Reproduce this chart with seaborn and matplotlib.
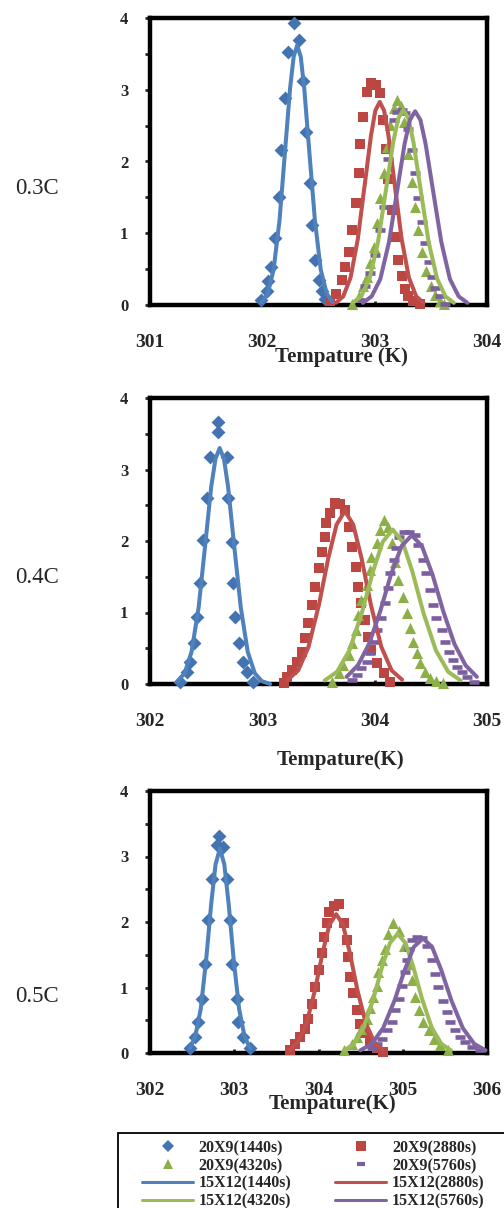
import numpy as np
import pandas as pd
import matplotlib
matplotlib.use("Agg")
import matplotlib.pyplot as plt
from matplotlib.lines import Line2D
from matplotlib.patches import Rectangle
from matplotlib.ticker import MultipleLocator
import seaborn as sns

# ---------------- 0.3C ----------------
x03_d1440 = [301.99, 302.04, 302.05, 302.08, 302.11, 302.15, 302.17, 302.20, 302.23, 302.285,
             302.33, 302.365, 302.39, 302.42, 302.44, 302.47, 302.50, 302.53, 302.56]
y03_d1440 = [0.07, 0.19, 0.33, 0.53, 0.93, 1.50, 2.16, 2.89, 3.53, 3.93,
             3.69, 3.12, 2.41, 1.70, 1.11, 0.63, 0.35, 0.19, 0.09]
x03_d2880 = [302.60, 302.66, 302.71, 302.74, 302.77, 302.80, 302.83, 302.86, 302.87, 302.90, 302.93,
             302.97, 303.01, 303.05, 303.07, 303.10, 303.12, 303.15, 303.18, 303.21, 303.24, 303.27,
             303.30, 303.34, 303.40]
y03_d2880 = [0.05, 0.16, 0.35, 0.53, 0.74, 1.05, 1.42, 1.84, 2.25, 2.62, 2.97,
             3.09, 3.07, 2.95, 2.58, 2.18, 1.75, 1.32, 0.95, 0.63, 0.40, 0.22,
             0.12, 0.05, 0.01]
x03_d4320 = [302.80, 302.86, 302.90, 302.93, 302.96, 302.99, 303.02, 303.05, 303.08, 303.11, 303.14,
             303.17, 303.20, 303.23, 303.26, 303.30, 303.33, 303.36, 303.39, 303.42, 303.46, 303.50,
             303.54, 303.58, 303.62]
y03_d4320 = [0.01, 0.12, 0.26, 0.39, 0.58, 0.81, 1.14, 1.49, 1.84, 2.20, 2.51,
             2.75, 2.86, 2.78, 2.55, 2.10, 1.72, 1.37, 1.05, 0.74, 0.48, 0.27,
             0.14, 0.06, 0.01]
x03_d5760 = [302.87, 302.91, 302.96, 303.00, 303.05, 303.08, 303.12, 303.17, 303.20, 303.24, 303.27,
             303.30, 303.33, 303.36, 303.39, 303.42, 303.45, 303.48, 303.51, 303.54, 303.58, 303.63]
y03_d5760 = [0.07, 0.26, 0.44, 0.70, 1.05, 1.37, 2.04, 2.58, 2.69, 2.72, 2.68,
             2.45, 2.16, 1.84, 1.49, 1.16, 0.86, 0.60, 0.39, 0.23, 0.12, 0.02]

x03_l1440 = [301.995, 302.048, 302.100, 302.153, 302.205, 302.247, 302.279, 302.310,
             302.342, 302.373, 302.415, 302.468, 302.520, 302.573, 302.625]
y03_l1440 = [0.04, 0.16, 0.49, 1.18, 2.20, 3.02, 3.46, 3.62, 3.46, 3.02, 2.20, 1.18, 0.49, 0.16, 0.04]
x03_l2880 = [302.655, 302.720, 302.785, 302.850, 302.915, 302.967, 303.006, 303.045,
             303.084, 303.123, 303.175, 303.240, 303.305, 303.370, 303.435]
y03_l2880 = [0.03, 0.12, 0.38, 0.92, 1.72, 2.36, 2.71, 2.83, 2.71, 2.36, 1.72, 0.92, 0.38, 0.12, 0.03]
x03_l4320 = [302.805, 302.880, 302.955, 303.030, 303.105, 303.165, 303.210, 303.255,
             303.300, 303.345, 303.405, 303.480, 303.555, 303.630, 303.705]
y03_l4320 = [0.03, 0.12, 0.37, 0.88, 1.65, 2.27, 2.60, 2.72, 2.60, 2.27, 1.65, 0.88, 0.37, 0.12, 0.03]
x03_l5760 = [302.895, 302.973, 303.050, 303.128, 303.205, 303.267, 303.314, 303.360,
             303.407, 303.453, 303.515, 303.593, 303.670, 303.748, 303.825]
y03_l5760 = [0.03, 0.12, 0.36, 0.88, 1.64, 2.25, 2.58, 2.70, 2.58, 2.25, 1.64, 0.88, 0.36, 0.12, 0.03]

# ---------------- 0.4C ----------------
x04_d1440 = [302.27, 302.33, 302.36, 302.39, 302.415, 302.445, 302.475, 302.505, 302.534, 302.608,
             302.608, 302.683, 302.697, 302.727, 302.742, 302.757, 302.795, 302.83, 302.86, 302.92]
y04_d1440 = [0.03, 0.17, 0.31, 0.57, 0.94, 1.41, 2.01, 2.60, 3.18, 3.53,
             3.67, 3.18, 2.60, 1.99, 1.41, 0.94, 0.57, 0.31, 0.17, 0.03]
x04_d2880 = [303.19, 303.22, 303.26, 303.31, 303.35, 303.38, 303.41, 303.44, 303.47, 303.50, 303.53,
             303.56, 303.57, 303.60, 303.65, 303.69, 303.74, 303.77, 303.80, 303.83, 303.85, 303.88,
             303.91, 303.94, 303.97, 304.02, 304.08, 304.14]
y04_d2880 = [0.01, 0.10, 0.20, 0.31, 0.45, 0.64, 0.85, 1.10, 1.36, 1.62, 1.85,
             2.06, 2.25, 2.39, 2.53, 2.52, 2.43, 2.20, 1.92, 1.64, 1.36, 1.13,
             0.90, 0.66, 0.48, 0.29, 0.15, 0.03]
x04_d4320 = [303.62, 303.68, 303.72, 303.77, 303.80, 303.83, 303.85, 303.88, 303.93, 303.96, 303.97,
             304.02, 304.05, 304.08, 304.12, 304.15, 304.18, 304.21, 304.255, 304.285, 304.315,
             304.345, 304.375, 304.40, 304.45, 304.49, 304.55, 304.61]
y04_d4320 = [0.03, 0.15, 0.27, 0.41, 0.57, 0.76, 0.97, 1.17, 1.38, 1.59, 1.78,
             1.97, 2.15, 2.29, 2.20, 1.97, 1.71, 1.45, 1.22, 0.99, 0.78,
             0.59, 0.43, 0.29, 0.17, 0.08, 0.04, 0.01]
x04_d5760 = [303.80, 303.84, 303.88, 303.93, 303.96, 303.99, 304.02, 304.06, 304.09, 304.12, 304.14,
             304.17, 304.19, 304.22, 304.26, 304.31, 304.36, 304.39, 304.43, 304.46, 304.49, 304.52,
             304.55, 304.60, 304.63, 304.66, 304.70, 304.73, 304.78, 304.82, 304.88]
y04_d5760 = [0.06, 0.13, 0.22, 0.31, 0.43, 0.59, 0.76, 0.92, 1.13, 1.34, 1.55,
             1.73, 1.90, 2.06, 2.12, 2.13, 2.08, 1.94, 1.73, 1.55, 1.31, 1.10,
             0.92, 0.76, 0.59, 0.45, 0.34, 0.24, 0.17, 0.10, 0.03]

x04_l1440 = [302.245, 302.308, 302.370, 302.433, 302.495, 302.545, 302.583, 302.620,
             302.658, 302.695, 302.745, 302.808, 302.870, 302.933, 302.995, 303.070]
y04_l1440 = [0.04, 0.15, 0.45, 1.07, 2.00, 2.76, 3.15, 3.30, 3.15, 2.76, 2.00, 1.07, 0.45, 0.15, 0.04, 0.00]
x04_l2880 = [303.226, 303.319, 303.411, 303.504, 303.587, 303.661, 303.735,
             303.809, 303.883, 303.966, 304.059, 304.151, 304.244]
y04_l2880 = [0.06, 0.19, 0.52, 1.11, 1.76, 2.23, 2.42, 2.23, 1.76, 1.11, 0.52, 0.19, 0.06]
x04_l4320 = [303.555, 303.665, 303.775, 303.885, 303.984, 304.072, 304.160,
             304.248, 304.336, 304.435, 304.545, 304.655, 304.765]
y04_l4320 = [0.05, 0.17, 0.47, 0.99, 1.57, 1.99, 2.16, 1.99, 1.57, 0.99, 0.47, 0.17, 0.05]
x04_l5760 = [303.75, 303.85, 303.95, 304.05, 304.145, 304.24, 304.33,
             304.42, 304.515, 304.61, 304.71, 304.81, 304.91]
y04_l5760 = [0.10, 0.26, 0.56, 1.02, 1.53, 1.93, 2.08, 1.93, 1.53, 1.02, 0.56, 0.26, 0.10]

# ---------------- 0.5C ----------------
x05_d1440 = [302.475, 302.535, 302.574, 302.614, 302.653, 302.693, 302.732, 302.792, 302.823,
             302.871, 302.91, 302.95, 302.97, 303.03, 303.05, 303.107, 303.19]
y05_d1440 = [0.07, 0.24, 0.47, 0.83, 1.36, 2.03, 2.66, 3.17, 3.32,
             3.15, 2.66, 2.03, 1.36, 0.83, 0.47, 0.24, 0.07]
x05_d2880 = [303.66, 303.72, 303.78, 303.84, 303.88, 303.92, 303.96, 304.00, 304.04, 304.06,
             304.10, 304.12, 304.18, 304.24, 304.30, 304.34, 304.355, 304.375, 304.415, 304.455,
             304.494, 304.553, 304.61, 304.69, 304.77]
y05_d2880 = [0.04, 0.14, 0.24, 0.37, 0.52, 0.75, 1.01, 1.26, 1.52, 1.77,
             1.98, 2.15, 2.25, 2.28, 1.98, 1.72, 1.47, 1.16, 0.91, 0.65,
             0.45, 0.30, 0.17, 0.07, 0.02]
x05_d4320 = [304.30, 304.40, 304.455, 304.51, 304.57, 304.61, 304.65, 304.69, 304.71, 304.75,
             304.79, 304.83, 304.89, 304.95, 305.01, 305.07, 305.105, 305.147, 305.19, 305.245,
             305.31, 305.37, 305.44, 305.54]
y05_d4320 = [0.04, 0.14, 0.24, 0.37, 0.52, 0.68, 0.85, 1.03, 1.24, 1.42,
             1.59, 1.82, 1.98, 1.87, 1.64, 1.36, 1.11, 0.85, 0.65, 0.47,
             0.35, 0.22, 0.12, 0.04]
x05_d5760 = [304.63, 304.69, 304.75, 304.81, 304.87, 304.91, 304.95, 304.99, 305.03, 305.05,
             305.07, 305.11, 305.17, 305.23, 305.286, 305.345, 305.385, 305.42, 305.48, 305.52,
             305.56, 305.62, 305.68, 305.74, 305.82, 305.92]
y05_d5760 = [0.07, 0.14, 0.22, 0.35, 0.47, 0.65, 0.83, 1.03, 1.24, 1.42,
             1.59, 1.72, 1.77, 1.75, 1.64, 1.42, 1.21, 1.01, 0.80, 0.63,
             0.47, 0.35, 0.24, 0.17, 0.09, 0.04]

x05_l1440 = [302.472, 302.537, 302.602, 302.667, 302.726, 302.778, 302.830,
             302.882, 302.934, 302.993, 303.058, 303.123, 303.188]
y05_l1440 = [0.07, 0.25, 0.67, 1.43, 2.27, 2.88, 3.12, 2.88, 2.27, 1.43, 0.67, 0.25, 0.07]
x05_l2880 = [303.66, 303.76, 303.86, 303.96, 304.05, 304.13, 304.21,
             304.29, 304.37, 304.46, 304.56, 304.66, 304.76]
y05_l2880 = [0.05, 0.17, 0.46, 0.97, 1.54, 1.96, 2.12, 1.96, 1.54, 0.97, 0.46, 0.17, 0.05]
x05_l4320 = [304.307, 304.422, 304.537, 304.652, 304.756, 304.848, 304.940,
             305.032, 305.124, 305.228, 305.343, 305.458, 305.573]
y05_l4320 = [0.04, 0.14, 0.39, 0.83, 1.32, 1.68, 1.82, 1.68, 1.32, 0.83, 0.39, 0.14, 0.04]
x05_l5760 = [304.497, 304.632, 304.767, 304.902, 305.024, 305.132, 305.240,
             305.348, 305.456, 305.578, 305.713, 305.848, 305.983]
y05_l5760 = [0.04, 0.14, 0.38, 0.80, 1.27, 1.62, 1.75, 1.62, 1.27, 0.80, 0.38, 0.14, 0.04]

panel_labels = ["0.3C", "0.4C", "0.5C"]
xlabels = ["Tempature (K)", "Tempature(K)", "Tempature(K)"]
xlims = [(301, 304), (302, 305), (302, 306)]
times = ["1440s", "2880s", "4320s", "5760s"]

pts = [
    [(x03_d1440, y03_d1440), (x03_d2880, y03_d2880), (x03_d4320, y03_d4320), (x03_d5760, y03_d5760)],
    [(x04_d1440, y04_d1440), (x04_d2880, y04_d2880), (x04_d4320, y04_d4320), (x04_d5760, y04_d5760)],
    [(x05_d1440, y05_d1440), (x05_d2880, y05_d2880), (x05_d4320, y05_d4320), (x05_d5760, y05_d5760)],
]
lines = [
    [(x03_l1440, y03_l1440), (x03_l2880, y03_l2880), (x03_l4320, y03_l4320), (x03_l5760, y03_l5760)],
    [(x04_l1440, y04_l1440), (x04_l2880, y04_l2880), (x04_l4320, y04_l4320), (x04_l5760, y04_l5760)],
    [(x05_l1440, y05_l1440), (x05_l2880, y05_l2880), (x05_l4320, y05_l4320), (x05_l5760, y05_l5760)],
]

mk_colors = ["#4374B1", "#BB4642", "#8DAF48", "#7A5E9F"]
ln_colors = ["#4F81BD", "#C0504D", "#9BBB59", "#8064A2"]
markers = ["D", "s", "^", "_"]
msizes = [50, 55, 64, 44]

sns.set_style("white")
plt.rcParams["font.family"] = ["Liberation Serif", "DejaVu Serif"]

fig = plt.figure(figsize=(5.04, 12.08), dpi=100)
W, H = 504, 1208
# axes boxes in pixels: (left, top, right, bottom)
boxes = [(150, 18, 487, 305), (150, 398, 487, 684), (150, 791, 487, 1053)]
label_xy = [(0.567, -0.146), (0.564, -0.231), (0.54, -0.157)]
side_y = [188, 578, 997]

for i, (l, t, r, b) in enumerate(boxes):
    ax = fig.add_axes([l / W, 1 - b / H, (r - l) / W, (b - t) / H])
    for j in range(4):
        xs, ys = pts[i][j]
        df = pd.DataFrame({"T": xs, "f": ys})
        kw = dict(linewidth=0)
        if markers[j] == "_":
            kw = dict(linewidth=3.3, edgecolor=mk_colors[j])
        sns.scatterplot(data=df, x="T", y="f", ax=ax, marker=markers[j], s=msizes[j],
                        color=mk_colors[j], zorder=3, clip_on=False, legend=False, **kw)
    for j in range(4):
        xs, ys = lines[i][j]
        df = pd.DataFrame({"T": xs, "f": ys})
        sns.lineplot(data=df, x="T", y="f", ax=ax, color=ln_colors[j], linewidth=2.9,
                     estimator=None, sort=False, zorder=4, clip_on=False)
    ax.set_xlim(*xlims[i])
    ax.set_ylim(0, 4)
    ax.xaxis.set_major_locator(MultipleLocator(1))
    ax.yaxis.set_major_locator(MultipleLocator(1))
    ax.yaxis.set_minor_locator(MultipleLocator(0.5))
    for s in ax.spines.values():
        s.set_linewidth(3.2)
        s.set_color("black")
        s.set_zorder(2.5)
    ax.tick_params(axis="x", which="major", direction="in", length=3, width=2,
                   pad=21, labelsize=14, bottom=True)
    ax.tick_params(axis="y", which="both", direction="out", length=3.5, width=2,
                   pad=12, labelsize=12, left=True)
    for lab in ax.get_xticklabels() + ax.get_yticklabels():
        lab.set_fontweight("bold")
    ax.set_xlabel(xlabels[i], fontsize=15, fontweight="bold")
    ax.xaxis.set_label_coords(*label_xy[i])
    ax.set_ylabel("")
    fig.text(37 / W, 1 - side_y[i] / H, panel_labels[i], ha="center", va="center", fontsize=16.5)

# legend box (clipped at the right edge like the original)
fig.patches.append(Rectangle((118 / W, -0.02), 1.0, 1 - 1133 / H + 0.02, transform=fig.transFigure,
                             fill=False, edgecolor="black", linewidth=1.3))
h_pts = [Line2D([], [], linestyle="none", marker=markers[j], color=mk_colors[j],
                markersize=[6, 7, 7, 6][j], markeredgewidth=[0, 0, 0, 3][j]) for j in range(4)]
h_lns = [Line2D([], [], color=ln_colors[j], linewidth=2.2) for j in range(4)]
names_pts = ["20X9(" + t + ")" for t in times]
names_lns = ["15X12(" + t + ")" for t in times]
handles = [h_pts[0], h_pts[2], h_lns[0], h_lns[2], h_pts[1], h_pts[3], h_lns[1], h_lns[3]]
labels = [names_pts[0], names_pts[2], names_lns[0], names_lns[2],
          names_pts[1], names_pts[3], names_lns[1], names_lns[3]]
fig.legend(handles, labels, ncol=2, loc="upper left", bbox_to_anchor=(142 / W, 1 - 1140 / H),
           frameon=False, borderpad=0, borderaxespad=0, handlelength=3.2, handletextpad=0.35,
           columnspacing=2.75, labelspacing=0.12, prop={"weight": "bold", "size": 11.5})

fig.savefig("out.png", dpi=100)
